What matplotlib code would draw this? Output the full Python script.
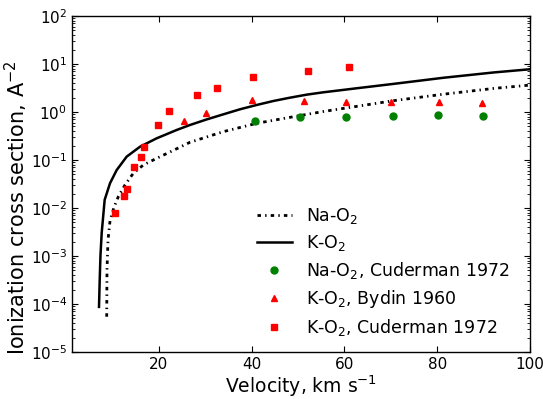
import matplotlib
matplotlib.use("Agg")
import matplotlib.pyplot as plt

# model curves (velocity km/s, cross section A^-2)
v_na = [8.78, 8.84, 9.06, 9.49, 10.35, 11.28, 12.72, 14.51, 16.67, 19.56,
        23.14, 26.74, 33.92, 41.12, 48.3, 55.48, 65.55, 70.58, 81.36, 92.14,
        100.0]
s_na = [5.43e-5, 5.13e-4, 2.14e-3, 5.37e-3, 1.035e-2, 1.72e-2, 3.02e-2,
        5.28e-2, 7.87e-2, 0.1084, 0.1585, 0.234, 0.389, 0.581, 0.774, 1.023,
        1.445, 1.718, 2.344, 3.09, 3.63]

v_k = [7.12, 7.27, 7.44, 7.70, 8.34, 9.49, 10.93, 13.09, 15.96, 19.56, 23.87,
       26.74, 30.34, 33.92, 37.52, 41.12, 44.7, 48.3, 51.9, 55.48, 59.08,
       62.68, 65.55, 70.58, 81.36, 92.14, 100.0]
s_k = [8.7e-5, 3.16e-4, 1.05e-3, 3.02e-3, 1.48e-2, 3.27e-2, 6.17e-2, 0.1175,
       0.189, 0.283, 0.422, 0.536, 0.700, 0.893, 1.138, 1.40, 1.694, 1.986,
       2.296, 2.57, 2.83, 3.12, 3.365, 3.846, 5.16, 6.65, 7.76]

# measurements
v_na_cud = [40.7, 50.5, 60.3, 70.4, 80.2, 89.8]
s_na_cud = [0.66, 0.78, 0.78, 0.81, 0.85, 0.84]

v_k_byd = [25.4, 30.1, 40.2, 51.2, 60.4, 70.1, 80.3, 89.7]
s_k_byd = [0.66, 0.97, 1.78, 1.69, 1.64, 1.59, 1.59, 1.52]

v_k_cud = [10.6, 12.6, 13.2, 14.7, 16.2, 16.9, 19.9, 22.3, 28.2, 32.6,
           40.4, 52.2, 61.1]
s_k_cud = [0.0078, 0.0178, 0.0245, 0.0715, 0.115, 0.187, 0.535, 1.05,
           2.23, 3.12, 5.28, 7.05, 8.54]

plt.rcParams['xtick.direction'] = 'in'
plt.rcParams['ytick.direction'] = 'in'
plt.rcParams['xtick.top'] = True
plt.rcParams['ytick.right'] = True
plt.rcParams['lines.scale_dashes'] = False

fig = plt.figure(figsize=(5.43, 3.99), dpi=100)
ax = fig.add_axes([0.1326, 0.1178, 0.8434, 0.8422])

ax.plot(v_na, s_na, color='black', lw=2, dashes=(2.5, 3, 1, 3), label='Na-O$_2$')
ax.plot(v_k, s_k, color='black', lw=1.8, label='K-O$_2$')
ax.plot(v_na_cud, s_na_cud, 'o', color='green', mec='green', ms=5,
        label='Na-O$_2$, Cuderman 1972')
ax.plot(v_k_byd, s_k_byd, '^', color='red', mec='red', ms=5,
        label='K-O$_2$, Bydin 1960')
ax.plot(v_k_cud, s_k_cud, 's', color='red', mec='red', ms=5,
        label='K-O$_2$, Cuderman 1972')

ax.set_yscale('log')
ax.set_xlim(1.3, 100)
ax.set_ylim(1e-5, 1e2)
ax.set_xticks([20, 40, 60, 80, 100])
ax.tick_params(which='major', length=4, width=0.8, labelsize=11)
ax.tick_params(which='minor', length=2, width=0.6)
for s in ax.spines.values():
    s.set_linewidth(1.0)

ax.set_xlabel('Velocity, km s$^{-1}$', fontsize=13.5, labelpad=1)
ax.set_ylabel('Ionization cross section, A$^{-2}$', fontsize=15)
ax.yaxis.set_label_coords(-0.092, 0.43)

ax.legend(loc='lower right', frameon=False, numpoints=1, fontsize=12.5,
          handlelength=2.0, handletextpad=0.8, labelspacing=0.4,
          borderaxespad=0.4, bbox_to_anchor=(0.985, 0.0))

fig.savefig('out.png', dpi=100)
